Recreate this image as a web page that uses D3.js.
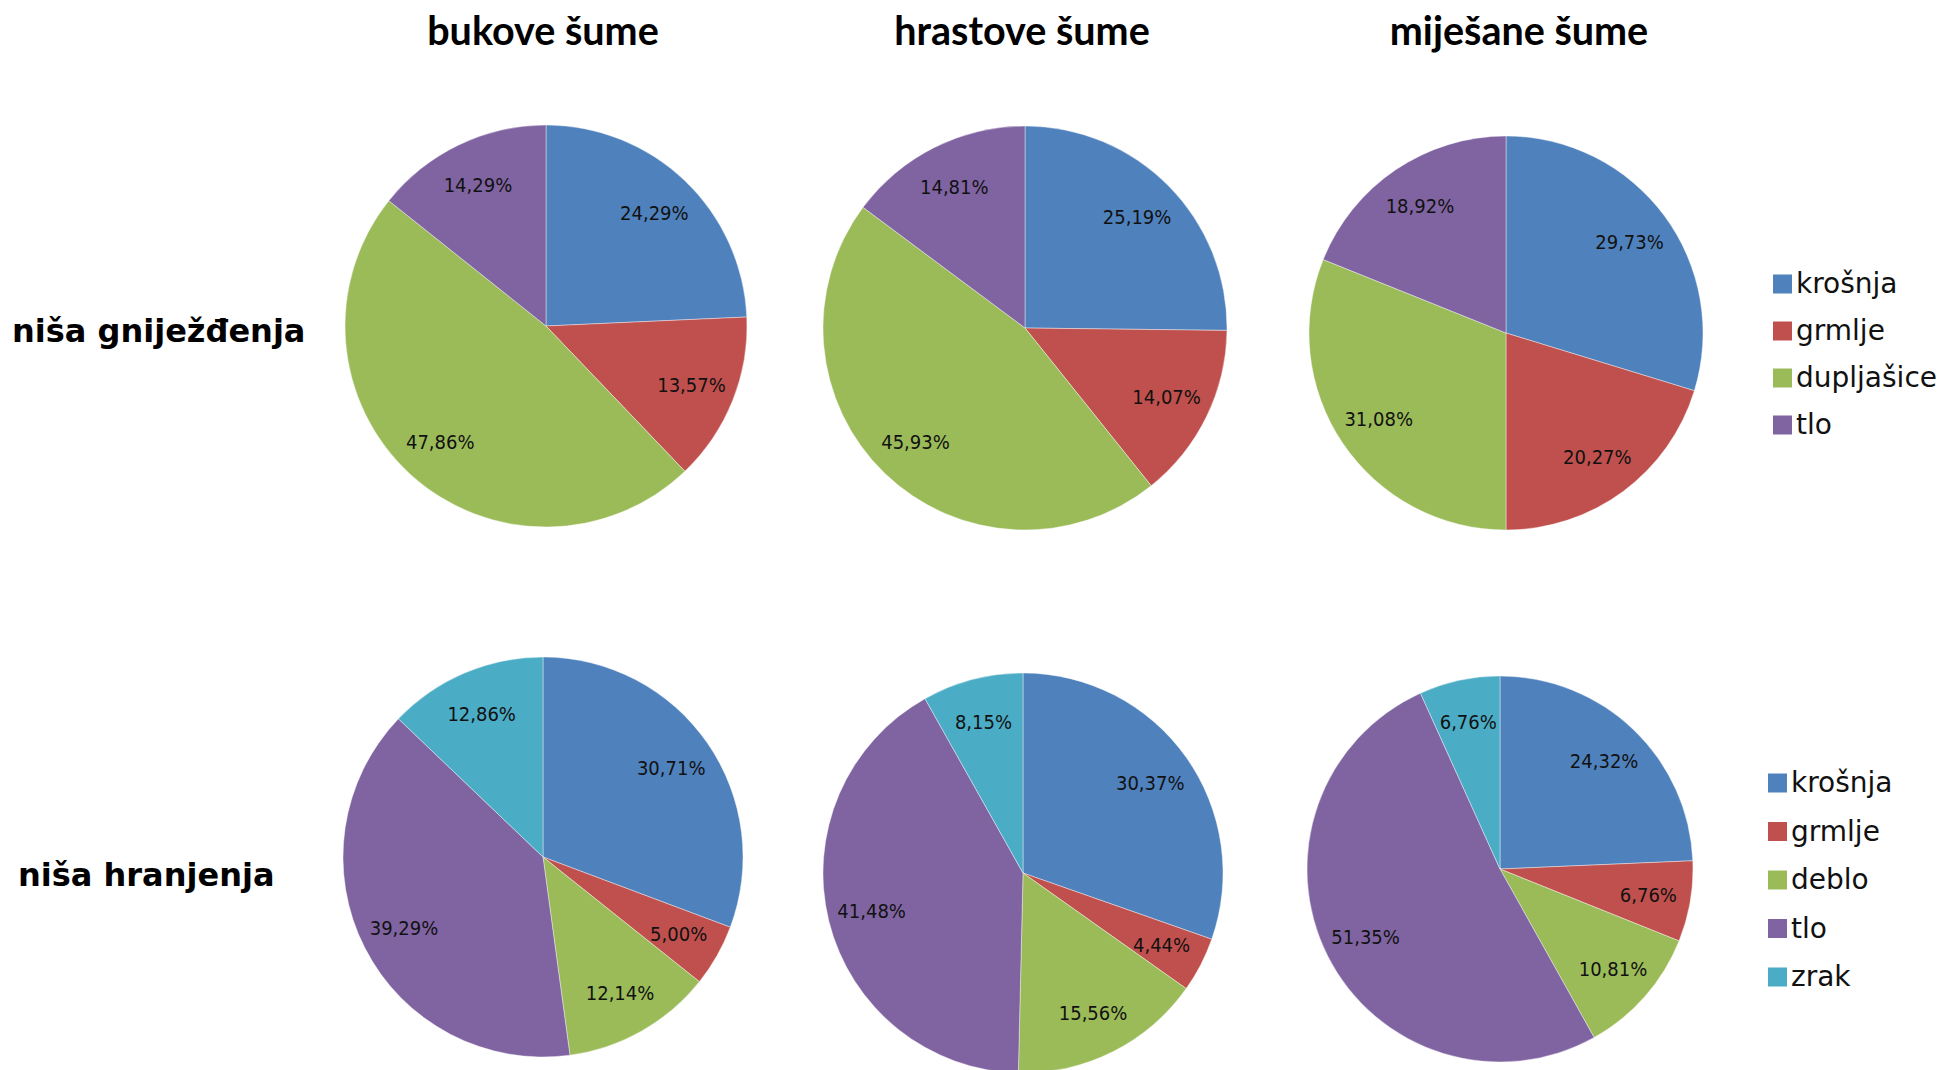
<!DOCTYPE html>
<html lang="hr">
<head>
<meta charset="utf-8">
<title>Niše gniježđenja i hranjenja</title>
<script src="https://cdn.jsdelivr.net/npm/d3@7"></script>
<style>
  body { margin: 0; background: #fff; }
  svg { display: block; }
  .col-title { font-family: Lato, "Open Sans", sans-serif; font-weight: bold; font-size: 39.5px; fill: #000; }
  .row-title { font-family: "DejaVu Sans", Verdana, sans-serif; font-weight: bold; font-size: 32px; fill: #000; }
  .pct { font-family: "DejaVu Sans Condensed", "DejaVu Sans", sans-serif; font-size: 20px; fill: #111; }
  .legend text { font-family: "DejaVu Sans", Verdana, sans-serif; font-size: 28px; fill: #111; }
</style>
</head>
<body>
<svg width="1943" height="1070"></svg>
<script>
// data
var columns = ["bukove šume", "hrastove šume", "miješane šume"];
var rowLabels = ["niša gniježđenja", "niša hranjenja"];

var nestCategories = ["krošnja", "grmlje", "dupljašice", "tlo"];
var nestValues = [
  [24.29, 13.57, 47.86, 14.29],
  [25.19, 14.07, 45.93, 14.81],
  [29.73, 20.27, 31.08, 18.92]
];

var feedCategories = ["krošnja", "grmlje", "deblo", "tlo", "zrak"];
var feedValues = [
  [30.71, 5.00, 12.14, 39.29, 12.86],
  [30.37, 4.44, 15.56, 41.48, 8.15],
  [24.32, 6.76, 10.81, 51.35, 6.76]
];

var palette = ["#4F81BD", "#C0504D", "#9BBB59", "#8064A2", "#4BACC6"];

// layout (pixels)
var titleX = [543, 1022, 1519];
var pieCenters = [
  [[546, 326, 201], [1025, 328, 202], [1506, 333, 197]],
  [[543, 857, 200], [1023, 873, 200], [1500, 869, 193]]
];
var rowLabelPos = [[12, 342], [18, 886]];

var svg = d3.select("svg");

svg.selectAll(".col-title")
  .data(columns)
  .enter().append("text")
  .attr("class", "col-title")
  .attr("x", function(d, i) { return titleX[i]; })
  .attr("y", 45)
  .attr("text-anchor", "middle")
  .text(function(d) { return d; });

svg.selectAll(".row-title")
  .data(rowLabels)
  .enter().append("text")
  .attr("class", "row-title")
  .attr("x", function(d, i) { return rowLabelPos[i][0]; })
  .attr("y", function(d, i) { return rowLabelPos[i][1]; })
  .text(function(d) { return d; });

var pie = d3.pie().sort(null).value(function(d) { return d; });
var fmt = d3.format(".2f");

function drawRow(rowIndex, categories, values) {
  var color = d3.scaleOrdinal().domain(categories).range(palette);

  values.forEach(function(vals, c) {
    var pc = pieCenters[rowIndex][c];
    var r = pc[2];
    var arc = d3.arc().innerRadius(0).outerRadius(r);
    var labelArc = d3.arc().innerRadius(r * 0.78).outerRadius(r * 0.78);

    var g = svg.append("g")
      .attr("transform", "translate(" + pc[0] + "," + pc[1] + ")");

    var arcs = pie(vals);

    g.selectAll("path")
      .data(arcs)
      .enter().append("path")
      .attr("d", arc)
      .attr("fill", function(d, i) { return color(categories[i]); })
      .attr("stroke", "#ffffff")
      .attr("stroke-opacity", 0.5)
      .attr("stroke-width", 0.8);

    g.selectAll("text")
      .data(arcs)
      .enter().append("text")
      .attr("class", "pct")
      .attr("transform", function(d) { return "translate(" + labelArc.centroid(d) + ")"; })
      .attr("text-anchor", "middle")
      .attr("dy", "0.36em")
      .text(function(d) { return fmt(d.data).replace(".", ",") + "%"; });
  });
}

drawRow(0, nestCategories, nestValues);
drawRow(1, feedCategories, feedValues);

function drawLegend(categories, x, y0, step) {
  var color = d3.scaleOrdinal().domain(categories).range(palette);
  var lg = svg.append("g").attr("class", "legend");
  var item = lg.selectAll("g")
    .data(categories)
    .enter().append("g")
    .attr("transform", function(d, i) { return "translate(" + x + "," + (y0 + i * step) + ")"; });
  item.append("rect")
    .attr("x", 0).attr("y", -9.5)
    .attr("width", 19).attr("height", 19)
    .attr("fill", function(d) { return color(d); });
  item.append("text")
    .attr("x", 23)
    .attr("y", 9)
    .text(function(d) { return d; });
}

drawLegend(nestCategories, 1773, 284, 47);
drawLegend(feedCategories, 1768, 783, 48.5);
</script>
</body>
</html>
